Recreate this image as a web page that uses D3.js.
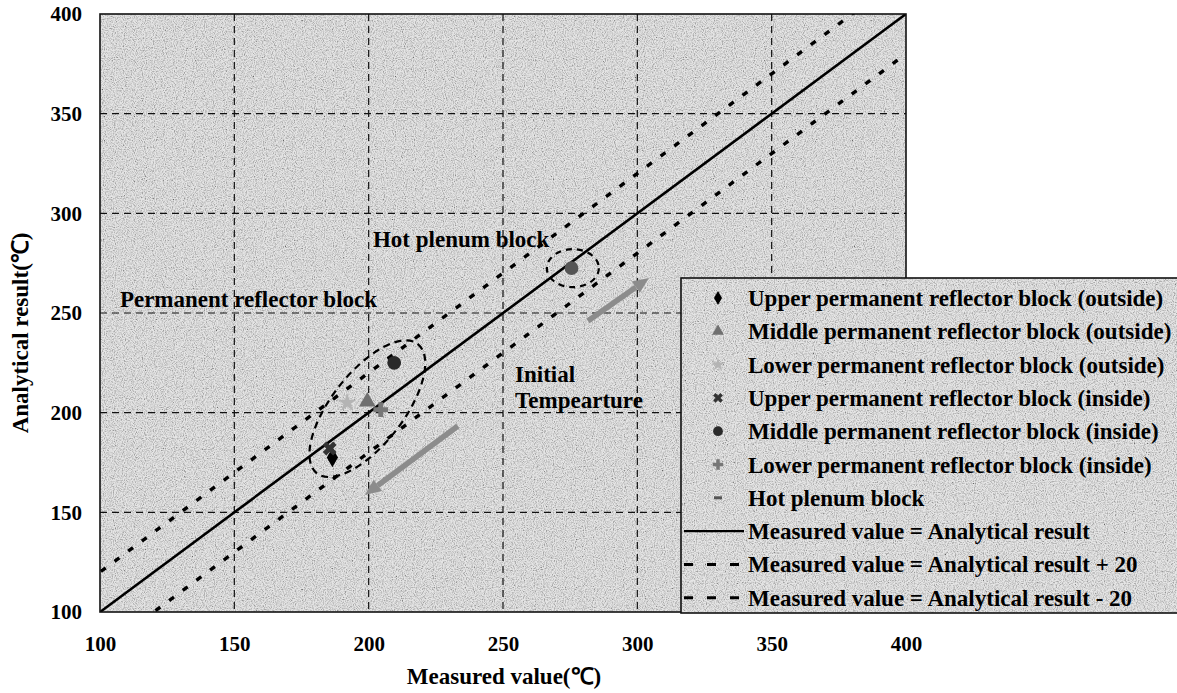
<!DOCTYPE html>
<html>
<head>
<meta charset="utf-8">
<script src="https://cdn.jsdelivr.net/npm/d3@7"></script>
<style>
  body { margin: 0; background: #fff; }
  text { font-family: "Liberation Serif", "Times New Roman", serif; font-weight: bold; }
</style>
</head>
<body>
<div id="chart"></div>
<script>
// axis ticks
const xTicks = [100, 150, 200, 250, 300, 350, 400];
const yTicks = [100, 150, 200, 250, 300, 350, 400];

// measured vs analytical points [measured, analytical]
const upperOutside = [[186.5, 177.5]];
const middleOutside = [[199.5, 205.5]];
const lowerOutside = [[192, 205]];
const upperInside = [[185.5, 182]];
const middleInside = [[209.5, 225]];
const lowerInside = [[204.5, 201.5]];
const hotPlenum = [[275.5, 272.5]];

// reference lines: analytical = measured + offset
const refOffsets = [0, 20, -20];

// legend labels
const legendLabels = [
  "Upper permanent reflector block (outside)",
  "Middle permanent reflector block (outside)",
  "Lower permanent reflector block (outside)",
  "Upper permanent reflector block (inside)",
  "Middle permanent reflector block (inside)",
  "Lower permanent reflector block (inside)",
  "Hot plenum block",
  "Measured value = Analytical result",
  "Measured value = Analytical result + 20",
  "Measured value = Analytical result - 20"
];

const W = 1177, H = 693;
const margin = {top: 14, right: 271, bottom: 81, left: 100},
    width = W - margin.left - margin.right,
    height = H - margin.top - margin.bottom;

let svg = d3.select("#chart").append("svg")
    .attr("width", W).attr("height", H);

// grainy grey texture like the scanned original
let defs = svg.append("defs");
let flt = defs.append("filter").attr("id", "grain")
    .attr("x", 0).attr("y", 0).attr("width", "100%").attr("height", "100%");
flt.append("feTurbulence").attr("type", "fractalNoise")
    .attr("baseFrequency", 0.9).attr("numOctaves", 2).attr("seed", 3).attr("result", "n");
flt.append("feColorMatrix").attr("in", "n").attr("type", "matrix")
    .attr("values", "2 0 0 0 -0.25  2 0 0 0 -0.25  2 0 0 0 -0.25  0 0 0 0 1")
    .attr("result", "c");
flt.append("feColorMatrix").attr("in", "c").attr("type", "saturate").attr("values", 0);

defs.append("clipPath").attr("id", "plotclip")
  .append("rect").attr("width", width).attr("height", height);

let g = svg.append("g")
    .attr("transform", "translate(" + margin.left + "," + margin.top + ")");

let x = d3.scaleLinear().domain([100, 400]).range([0, width]);
let y = d3.scaleLinear().domain([100, 400]).range([height, 0]);

// plot background
g.append("rect").attr("width", width).attr("height", height)
    .attr("fill", "#cbcbcb");
g.append("rect").attr("width", width).attr("height", height)
    .attr("filter", "url(#grain)").attr("opacity", 0.5);

// dashed grid
g.append("g").selectAll("line.vg")
  .data(xTicks.slice(1, -1)).enter().append("line")
    .attr("x1", d => x(d)).attr("x2", d => x(d))
    .attr("y1", 0).attr("y2", height)
    .attr("stroke", "#111").attr("stroke-width", 1.2)
    .attr("stroke-dasharray", "7,5");
g.append("g").selectAll("line.hg")
  .data(yTicks.slice(1, -1)).enter().append("line")
    .attr("x1", 0).attr("x2", width)
    .attr("y1", d => y(d)).attr("y2", d => y(d))
    .attr("stroke", "#111").attr("stroke-width", 1.2)
    .attr("stroke-dasharray", "7,5");

// reference lines
const refStyles = [
  {dash: null, w: 2.6},
  {dash: "6,11", w: 3.4},
  {dash: "6,11", w: 3.4}
];
let lineGen = d3.line().x(d => x(d[0])).y(d => y(d[1]));
let lineLayer = g.append("g").attr("clip-path", "url(#plotclip)");
refOffsets.forEach(function(off, i) {
  lineLayer.append("path")
    .datum([[80, 80 + off], [420, 420 + off]])
    .attr("d", lineGen)
    .attr("fill", "none")
    .attr("stroke", "#000")
    .attr("stroke-width", refStyles[i].w)
    .attr("stroke-dasharray", refStyles[i].dash);
});

// plot border
g.append("rect").attr("width", width).attr("height", height)
    .attr("fill", "none").attr("stroke", "#111").attr("stroke-width", 1.6);

// dashed ellipses
g.append("ellipse")
    .attr("cx", x(199.5)).attr("cy", y(202))
    .attr("rx", 82).attr("ry", 36)
    .attr("transform", "rotate(-52," + x(199.5) + "," + y(202) + ")")
    .attr("fill", "none").attr("stroke", "#000").attr("stroke-width", 2.2)
    .attr("stroke-dasharray", "7,5");
g.append("ellipse")
    .attr("cx", x(276)).attr("cy", y(272.5))
    .attr("rx", 26).attr("ry", 19)
    .attr("fill", "none").attr("stroke", "#000").attr("stroke-width", 2.2)
    .attr("stroke-dasharray", "6,5");

// grey arrows
const arrows = [
  [[233.2, 193.3], [198.6, 158.7]],
  [[281.6, 246], [304.3, 267.6]]
];
arrows.forEach(function(a) {
  let x1 = x(a[0][0]), y1 = y(a[0][1]), x2 = x(a[1][0]), y2 = y(a[1][1]);
  let ang = Math.atan2(y2 - y1, x2 - x1);
  let hl = 16, hw = 7;
  let bx = x2 - hl * Math.cos(ang), by = y2 - hl * Math.sin(ang);
  g.append("line").attr("x1", x1).attr("y1", y1).attr("x2", bx).attr("y2", by)
    .attr("stroke", "#8c8c8c").attr("stroke-width", 5.5);
  let px = -Math.sin(ang), py = Math.cos(ang);
  g.append("path")
    .attr("d", "M" + x2 + "," + y2 + "L" + (bx + px * hw) + "," + (by + py * hw) +
      "L" + (bx - px * hw) + "," + (by - py * hw) + "Z")
    .attr("fill", "#8c8c8c");
});

// markers
const markerDefs = [
  {data: upperOutside, type: d3.symbolDiamond, color: "#000", size: 110},
  {data: middleOutside, type: d3.symbolTriangle, color: "#707070", size: 120},
  {data: lowerOutside, type: d3.symbolStar, color: "#b4b4b4", size: 110},
  {data: upperInside, type: d3.symbolCross, color: "#333", size: 120, rot: 45},
  {data: middleInside, type: d3.symbolCircle, color: "#2a2a2a", size: 150},
  {data: lowerInside, type: d3.symbolCross, color: "#777", size: 120},
  {data: hotPlenum, type: d3.symbolCircle, color: "#555", size: 150}
];
markerDefs.forEach(function(m) {
  g.append("g").selectAll("path").data(m.data).enter().append("path")
    .attr("d", d3.symbol().type(m.type).size(m.size))
    .attr("transform", d => "translate(" + x(d[0]) + "," + y(d[1]) + ") rotate(" + (m.rot || 0) + ")")
    .attr("fill", m.color);
});

// annotations
const annotations = [
  {t: "Hot plenum block", at: [201.6, 283]},
  {t: "Permanent reflector block", at: [107.4, 253]},
  {t: "Initial", at: [254.5, 215.4]},
  {t: "Tempearture", at: [254.5, 202.3]}
];
g.selectAll("text.ann").data(annotations).enter().append("text")
    .attr("x", d => x(d.at[0])).attr("y", d => y(d.at[1]))
    .attr("font-size", 23).attr("fill", "#000")
    .text(d => d.t);

// axes tick labels
let xAxis = g.append("g").attr("transform", "translate(0," + height + ")")
    .call(d3.axisBottom(x).tickValues(xTicks).tickSize(0).tickPadding(24));
let yAxis = g.append("g")
    .call(d3.axisLeft(y).tickValues(yTicks).tickSize(0).tickPadding(18));
[xAxis, yAxis].forEach(function(a) {
  a.select(".domain").remove();
  a.selectAll("text").attr("font-size", 21).attr("fill", "#000")
    .style("font-family", "'Liberation Serif', serif").style("font-weight", "bold");
});

svg.append("text")
    .attr("x", 504).attr("y", 684)
    .attr("text-anchor", "middle").attr("font-size", 23)
    .text("Measured value(\u2103)");
svg.append("text")
    .attr("transform", "translate(28," + (margin.top + y(240)) + ") rotate(-90)")
    .attr("text-anchor", "middle").attr("font-size", 23)
    .text("Analytical result(\u2103)");

// legend box
const lgX = 681, lgY = 278, lgW = W - lgX + 2, lgH = 335;
let lg = svg.append("g").attr("transform", "translate(" + lgX + "," + lgY + ")");
lg.append("rect").attr("width", lgW).attr("height", lgH).attr("fill", "#cdcdcd");
lg.append("rect").attr("width", lgW).attr("height", lgH)
    .attr("filter", "url(#grain)").attr("opacity", 0.5);
lg.append("rect").attr("width", lgW).attr("height", lgH)
    .attr("fill", "none").attr("stroke", "#111").attr("stroke-width", 1.6);

const rowH = 33.3, row0 = 20;
legendLabels.forEach(function(lab, i) {
  let cy = row0 + i * rowH;
  if (i < markerDefs.length) {
    let m = markerDefs[i];
    if (i === 6) {
      lg.append("rect").attr("x", 33).attr("y", cy - 1.5).attr("width", 8).attr("height", 3)
        .attr("fill", m.color);
    } else {
      lg.append("path")
        .attr("d", d3.symbol().type(m.type).size(m.size * 0.5))
        .attr("transform", "translate(37," + cy + ") rotate(" + (m.rot || 0) + ")")
        .attr("fill", m.color);
    }
  } else {
    let s = refStyles[i - markerDefs.length];
    lg.append("line").attr("x1", 3).attr("x2", 63).attr("y1", cy).attr("y2", cy)
      .attr("stroke", "#000").attr("stroke-width", s.dash ? 3 : 2.2)
      .attr("stroke-dasharray", s.dash ? "9,14" : null);
  }
  lg.append("text").attr("x", 67).attr("y", cy + 8)
    .attr("font-size", 23).text(lab);
});
</script>
</body>
</html>
